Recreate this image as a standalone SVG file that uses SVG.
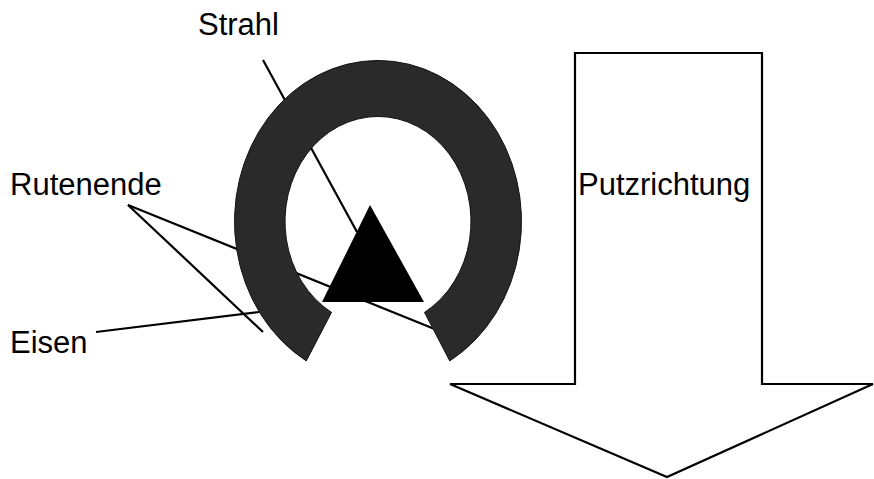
<svg xmlns="http://www.w3.org/2000/svg" width="874" height="479" viewBox="0 0 874 479">
<style>
.lbl{font-family:"Liberation Sans",Arial,sans-serif;font-size:31px;fill:#000}
.con{stroke:#000;stroke-width:2.2;fill:none;stroke-linecap:butt}
</style>
<rect width="874" height="479" fill="#fff"/>
<g id="arrow">
<path d="M575 53 L762 53 L762 384 L873 384 L667 477 L450 384 L575 384 Z" fill="#fff" stroke="#000" stroke-width="2.2" stroke-linejoin="miter"/>
<text class="lbl" x="578" y="195">Putzrichtung</text>
</g>
<g id="connectors">
<line class="con" x1="263" y1="60" x2="357" y2="232"/>
<line class="con" x1="128" y1="205" x2="437" y2="330"/>
<line class="con" x1="128" y1="205" x2="263" y2="332"/>
<line class="con" x1="96" y1="332" x2="259" y2="312"/>
</g>
<g id="eisen-ring">
<path d="M449.75 360.9 A143.5 161 0 1 0 306.25 360.9 L331.5 312.4 A93 105 0 1 1 424.5 312.4 Z" fill="#2a2a2a" stroke="#111" stroke-width="1"/>
</g>
<g id="strahl-triangle">
<polygon points="370,205 322,302 424,302" fill="#000"/>
</g>
<g id="label-strahl"><text class="lbl" x="198" y="35">Strahl</text></g>
<g id="label-rutenende"><text class="lbl" x="10" y="195">Rutenende</text></g>
<g id="label-eisen"><text class="lbl" x="10" y="353">Eisen</text></g>
</svg>
